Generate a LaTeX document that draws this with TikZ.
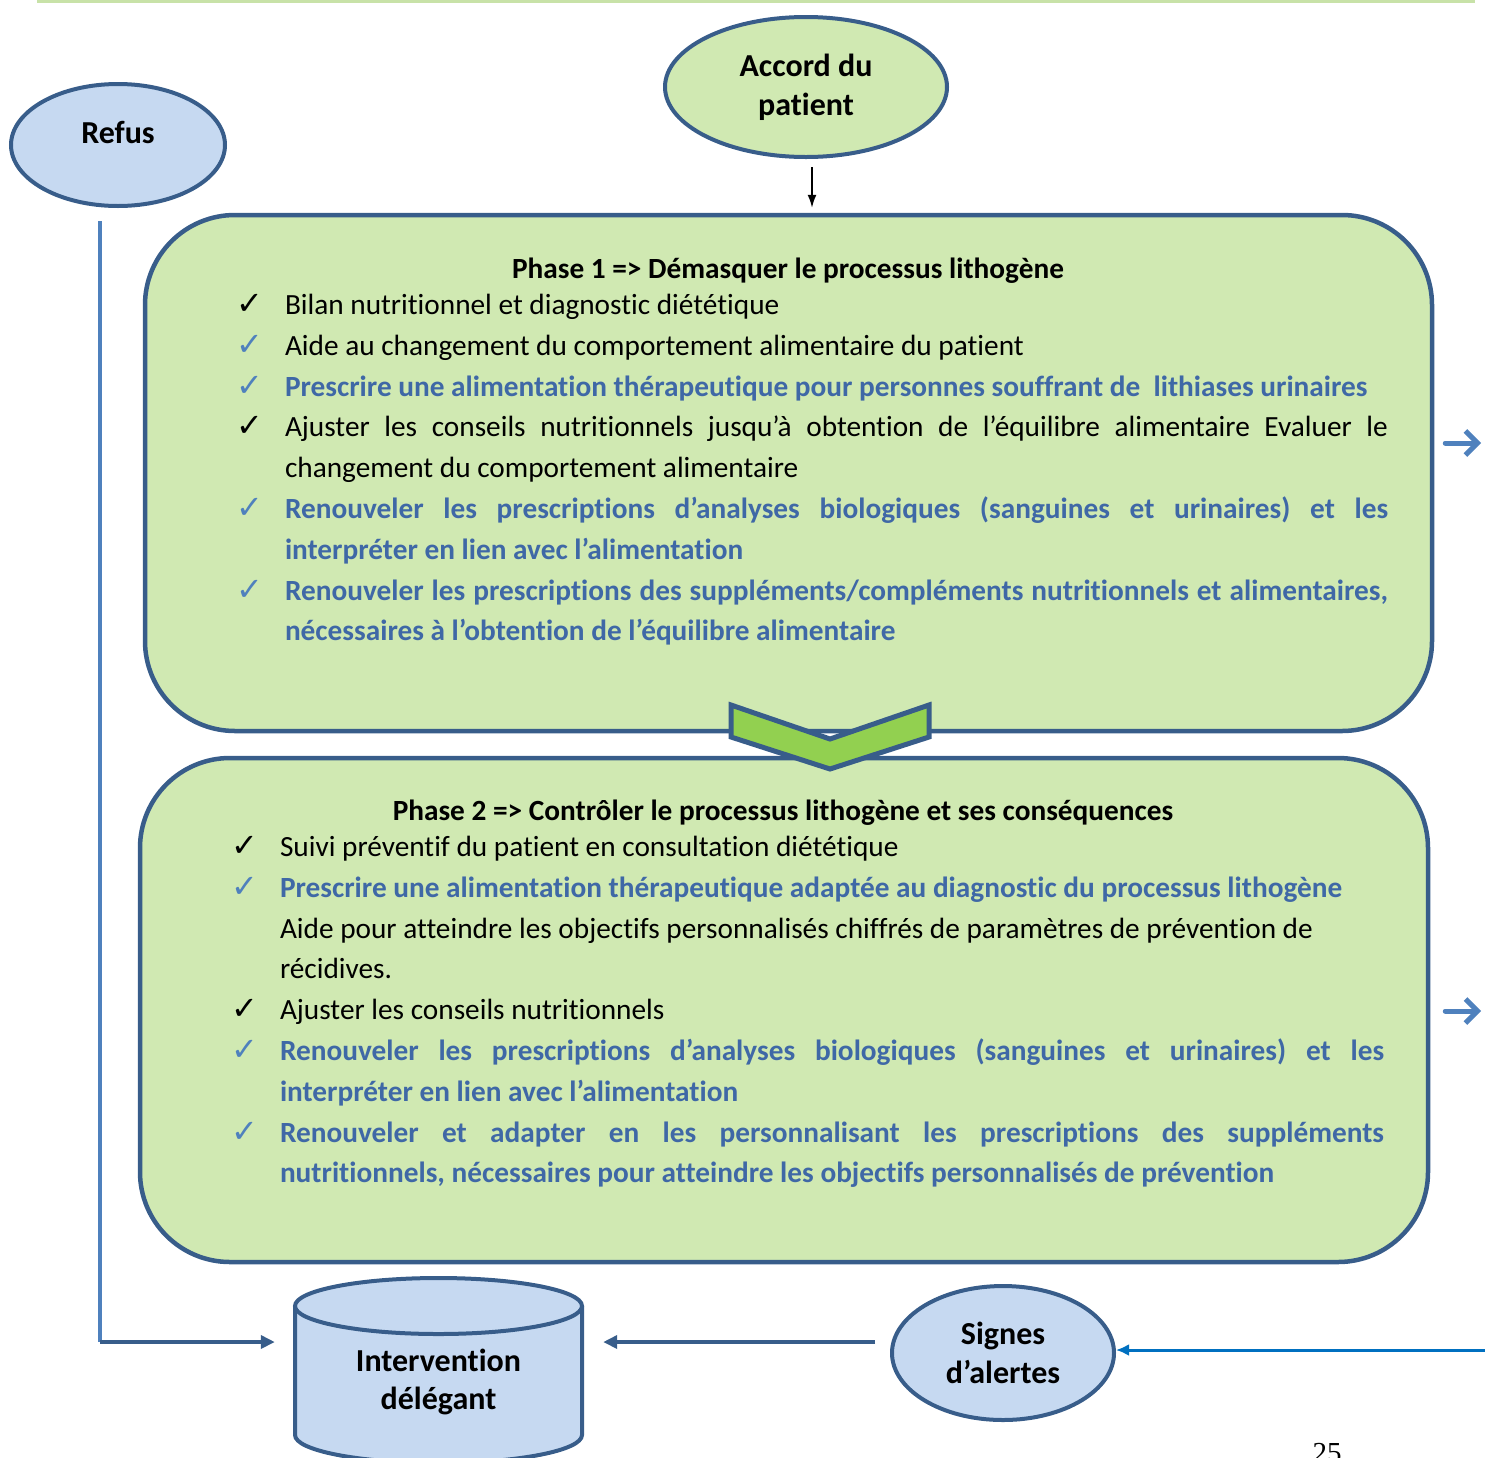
\documentclass[tikz,border=0pt]{standalone}
\usepackage{fontspec}
\setmainfont{Carlito}[Ligatures=NoCommon]
\newfontfamily\djv{DejaVu Sans}
\newfontfamily\tms{Liberation Serif}
\usetikzlibrary{shapes.geometric,arrows.meta}
\definecolor{bord}{HTML}{385D8A}
\definecolor{greenfill}{HTML}{D0E9B2}
\definecolor{topline}{HTML}{C8E2A8}
\definecolor{bluefill}{HTML}{C6D9F1}
\definecolor{chev}{HTML}{92D050}
\definecolor{bluetxt}{HTML}{3F68A6}
\definecolor{ckblue}{HTML}{4F81BD}
\definecolor{arrblue}{HTML}{0070C0}
\newcommand\ckmark{✓}
\begin{document}
\begin{tikzpicture}[x=1pt,y=-1pt,
  phasebox/.style={draw=bord, line width=4.5pt, fill=greenfill, rounded corners=90pt, inner sep=0pt},
  oval/.style={ellipse, draw=bord, line width=4pt, inner sep=0pt, align=center, font=\fontsize{32}{39}\selectfont\bfseries},
  txt/.style={anchor=base west, inner sep=0pt, outer sep=0pt, font=\fontsize{29.3}{41}\selectfont},
  btxt/.style={txt, font=\fontsize{29.3}{41}\selectfont\bfseries, text=bluetxt},
  ttl/.style={anchor=base, inner sep=0pt, font=\fontsize{29.3}{41}\selectfont\bfseries},
  ck/.style={anchor=base west, inner sep=0pt, font=\djv\fontsize{32}{32}\selectfont},
  karrow/.style={-{Latex[length=13pt,width=9pt]}, line width=1.6pt, black},
  darrow/.style={-{Triangle[length=14pt,width=13pt]}, line width=3.5pt, draw=bord},
  rarrow/.style={-{Straight Barb[length=12pt,width=24pt,line width=5pt]}, line width=5pt, draw=ckblue, line cap=round},
  barrow/.style={-{Latex[length=13pt,width=12pt]}, line width=3pt, draw=arrblue}]
\useasboundingbox (0,0) rectangle (1485,1457);
% top rule
\draw[topline, line width=4pt] (37,1) -- (1475,1);
% ovals
\node[oval, fill=greenfill, minimum width=282pt, minimum height=140pt] (accord) at (806,87) {Accord du\\patient};
\node[oval, fill=bluefill, minimum width=214pt, minimum height=122pt] (refus) at (118,145) {};
\node[inner sep=0pt, font=\fontsize{32}{39}\selectfont\bfseries] (refusl) at (118,132) {Refus};
\node[oval, fill=bluefill, minimum width=222pt, minimum height=134pt] (signes) at (1003,1353) {Signes\\d’alertes};
% phase boxes
\node[phasebox, minimum width=1287pt, minimum height=516pt] (p1) at (788.5,473) {};
\node[phasebox, minimum width=1288pt, minimum height=504pt] (p2) at (784,1010) {};
% chevron
\draw[fill=chev, draw=bord, line width=5pt, line join=miter] (731,705) -- (830,739) -- (929,705) -- (929,737) -- (830,769) -- (731,737) -- cycle;
% phase 1 text
\node[ttl] (t1) at (788,278) {Phase 1 => Démasquer le processus lithogène};
\node[ck] (c11) at (236,314) {\ckmark};
\node[txt] (l11) at (285,314) {Bilan nutritionnel et diagnostic diététique};
\node[ck, text=ckblue] (c12) at (236,355) {\ckmark};
\node[txt] (l12) at (285,355) {Aide au changement du comportement alimentaire du patient};
\node[ck, text=ckblue] (c13) at (236,396) {\ckmark};
\node[btxt] (l13) at (285,396) {Prescrire une alimentation thérapeutique pour personnes souffrant de \ lithiases urinaires};
\node[ck] (c14) at (236,436) {\ckmark};
\node[txt] (l14) at (285,436) {\makebox[1103pt][s]{Ajuster les conseils nutritionnels jusqu’à obtention de l’équilibre alimentaire Evaluer le}};
\node[txt] (l15) at (285,477) {changement du comportement alimentaire};
\node[ck, text=ckblue] (c16) at (236,518) {\ckmark};
\node[btxt] (l16) at (285,518) {\makebox[1103pt][s]{Renouveler les prescriptions d’analyses biologiques (sanguines et urinaires) et les}};
\node[btxt] (l17) at (285,559) {interpréter en lien avec l’alimentation};
\node[ck, text=ckblue] (c18) at (236,600) {\ckmark};
\node[btxt] (l18) at (285,600) {\makebox[1103pt][s]{Renouveler les prescriptions des suppléments/compléments nutritionnels et alimentaires,}};
\node[btxt] (l19) at (285,640) {nécessaires à l’obtention de l’équilibre alimentaire};
% phase 2 text
\node[ttl] (t2) at (783,820) {Phase 2 => Contrôler le processus lithogène et ses conséquences};
\node[ck] (c21) at (231,856) {\ckmark};
\node[txt] (l21) at (280,856) {Suivi préventif du patient en consultation diététique};
\node[ck, text=ckblue] (c22) at (231,897) {\ckmark};
\node[btxt] (l22) at (280,897) {Prescrire une alimentation thérapeutique adaptée au diagnostic du processus lithogène};
\node[txt] (l23) at (280,938) {Aide pour atteindre les objectifs personnalisés chiffrés de paramètres de prévention de};
\node[txt] (l24) at (280,978) {récidives.};
\node[ck] (c25) at (231,1019) {\ckmark};
\node[txt] (l25) at (280,1019) {Ajuster les conseils nutritionnels};
\node[ck, text=ckblue] (c26) at (231,1060) {\ckmark};
\node[btxt] (l26) at (280,1060) {\makebox[1104pt][s]{Renouveler les prescriptions d’analyses biologiques (sanguines et urinaires) et les}};
\node[btxt] (l27) at (280,1101) {interpréter en lien avec l’alimentation};
\node[ck, text=ckblue] (c28) at (231,1142) {\ckmark};
\node[btxt] (l28) at (280,1142) {\makebox[1104pt][s]{Renouveler et adapter en les personnalisant les prescriptions des suppléments}};
\node[btxt] (l29) at (280,1182) {nutritionnels, nécessaires pour atteindre les objectifs personnalisés de prévention};
% cylinder
\fill[bluefill] (295,1306) -- (295,1435) arc[start angle=180, end angle=360, x radius=143.5pt, y radius=28pt] -- (582,1306) -- cycle;
\draw[bord, line width=4pt] (295,1306) -- (295,1435) arc[start angle=180, end angle=360, x radius=143.5pt, y radius=28pt] -- (582,1306);
\draw[bord, line width=4pt, fill=bluefill] (438.5,1306) ellipse[x radius=143.5pt, y radius=28pt];
\node[inner sep=0pt, minimum width=287pt, minimum height=150pt] (cyl) at (438.5,1370) {};
\node[inner sep=0pt, align=center, font=\fontsize{32}{38}\selectfont\bfseries] (cylt) at (438.5,1382) {Intervention\\délégant};
% connectors
\coordinate (a1) at ([xshift=6pt]accord.south);
\draw[karrow, shorten <=8pt, shorten >=5pt] (a1) -- (a1 |- p1.north);
\coordinate (corner) at (100,1342);
\draw[ckblue, line width=4pt] ([shift={(-18,13)}]refus.south) -- (corner);
\draw[darrow, shorten >=20pt] (corner) -- (corner -| cyl.west);
\draw[darrow, shorten <=15pt, shorten >=21pt] (signes.west |- corner) -- (cyl.east |- corner);
\coordinate (in1) at (1485,1350);
\draw[barrow] (in1) -- (signes.east |- in1);
\coordinate (out1) at (1481,443);
\coordinate (out2) at (1481,1011);
\draw[rarrow, shorten <=11pt] (p1.east |- out1) -- (out1);
\draw[rarrow, shorten <=15pt] (p2.east |- out2) -- (out2);
% page number
\node[anchor=base, inner sep=0pt, font=\tms\fontsize{29}{29}\selectfont] (pg) at (1327,1462) {25};
\end{tikzpicture}
\end{document}
